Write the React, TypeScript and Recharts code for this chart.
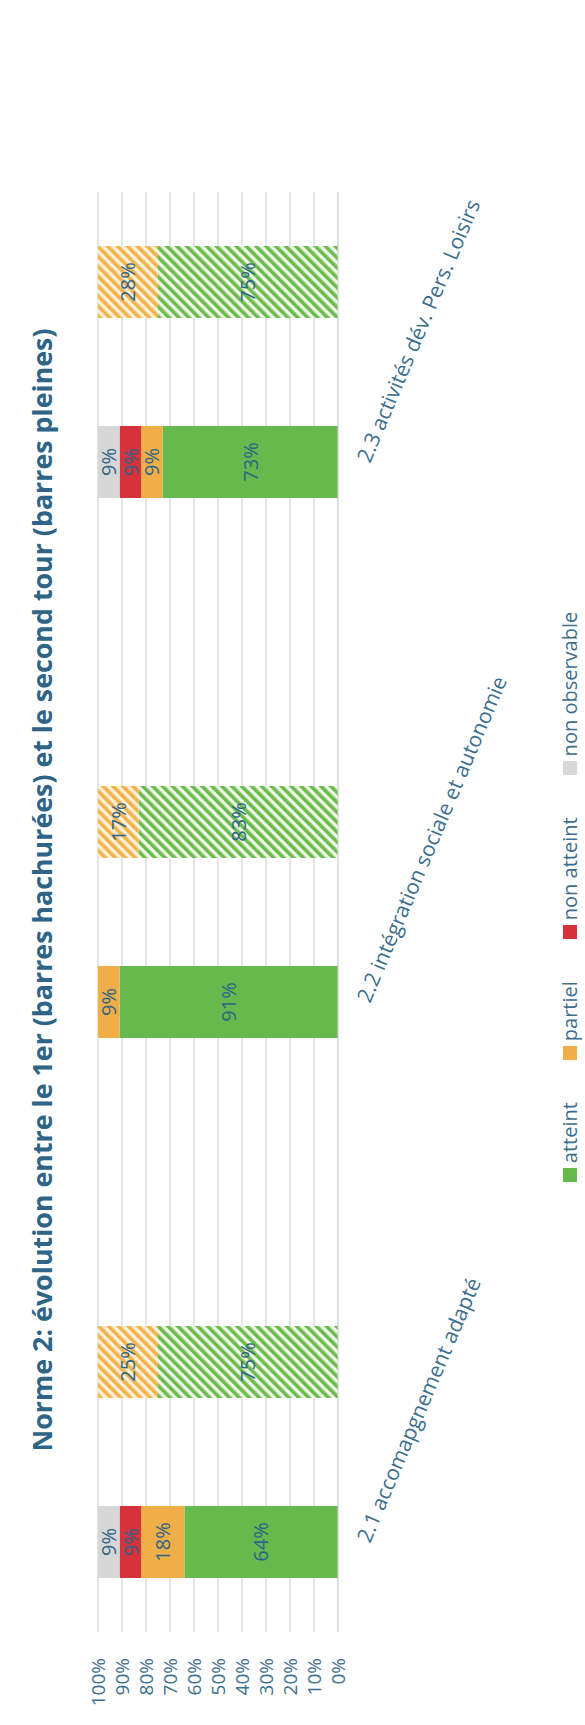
import { BarChart, Bar, XAxis, YAxis, CartesianGrid, Cell, LabelList } from "recharts";

const groups = [
  "2.1 accomapgnement adapté",
  "2.2 intégration sociale et autonomie",
  "2.3 activités dév. Pers. Loisirs",
];

// second tour (barres pleines)
const atteint2 = [64, 91, 73];
const partiel2 = [18, 9, 9];
const nonAtteint2 = [9, 0, 9];
const nonObservable2 = [9, 0, 9];

// 1er tour (barres hachurées)
const atteint1 = [75, 83, 75];
const partiel1 = [25, 17, 28];
const nonAtteint1 = [0, 0, 0];
const nonObservable1 = [0, 0, 0];

const percentTicks = [0, 10, 20, 30, 40, 50, 60, 70, 80, 90, 100];

const series = [
  { key: "atteint", name: "atteint", color: "#67b84d", hatch: "url(#hatchGreen)" },
  { key: "partiel", name: "partiel", color: "#f0ae48", hatch: "url(#hatchOrange)" },
  { key: "nonAtteint", name: "non atteint", color: "#d5323b", hatch: "#d5323b" },
  { key: "nonObservable", name: "non observable", color: "#d7d7d7", hatch: "#d7d7d7" },
];

// one slot per bar, with an empty slot between the groups
const rows: any[] = [];
groups.forEach((g, i) => {
  rows.push({
    key: `${i}-2`, group: g, tour: 2,
    atteint: atteint2[i], partiel: partiel2[i], nonAtteint: nonAtteint2[i], nonObservable: nonObservable2[i],
  });
  rows.push({
    key: `${i}-1`, group: g, tour: 1,
    atteint: atteint1[i], partiel: partiel1[i], nonAtteint: nonAtteint1[i], nonObservable: nonObservable1[i],
  });
  if (i < groups.length - 1) rows.push({ key: `gap-${i}`, group: "", tour: 0 });
});

const W = 1725;
const H = 585;
const FONT = "'Open Sans', sans-serif";
const TEXT = "#3c6e8d";

const CategoryTick = (props: any) => {
  const { x, y, payload } = props;
  const row = rows.find((r) => r.key === payload.value);
  if (!row || row.tour !== 2) return <g />;
  const tx = x - 2;
  const ty = y + 24;
  return (
    <text x={tx} y={ty} transform={`rotate(23, ${tx}, ${ty})`} fill={TEXT} fontSize={21} fontFamily={FONT} textAnchor="start">
      {row.group}
    </text>
  );
};

function App() {
  return (
    <div style={{ position: "absolute", left: 0, top: 0, width: 585, height: 1725, overflow: "hidden", background: "#fff" }}>
      <div
        style={{
          position: "absolute", left: 0, top: 0, width: W, height: H,
          transformOrigin: "0 0", transform: `translate(0px, ${W}px) rotate(-90deg)`,
          fontFamily: FONT,
        }}
      >
        <div
          style={{
            position: "absolute", top: 23, left: 0, width: 1670, textAlign: "center",
            fontSize: 26.8, fontWeight: 700, color: "#2e6587", whiteSpace: "nowrap",
          }}
        >
          Norme 2: évolution entre le 1er (barres hachurées) et le second tour (barres pleines)
        </div>

        <BarChart width={W} height={H} data={rows} margin={{ top: 98, right: 192, bottom: 47, left: 13 }} barCategoryGap="30%">
          <defs>
            <pattern id="hatchGreen" patternUnits="userSpaceOnUse" width="7" height="7" patternTransform="rotate(45)">
              <rect width="7" height="7" fill="#eef7e6" />
              <rect width="3.6" height="7" fill="#6cbb4e" />
            </pattern>
            <pattern id="hatchOrange" patternUnits="userSpaceOnUse" width="7" height="7" patternTransform="rotate(45)">
              <rect width="7" height="7" fill="#fdf1d8" />
              <rect width="3.6" height="7" fill="#f2b24c" />
            </pattern>
          </defs>
          <CartesianGrid vertical={false} stroke="#dcdcdc" strokeWidth={1.5} />
          <XAxis
            dataKey="key"
            height={200}
            tick={<CategoryTick />}
            tickLine={false}
            axisLine={{ stroke: "#d9d9d9" }}
            interval={0}
          />
          <YAxis
            width={80}
            domain={[0, 100]}
            ticks={percentTicks}
            interval={0}
            allowDataOverflow
            tickFormatter={(v: number) => `${v}%`}
            tick={{ fill: TEXT, fontSize: 19, fontFamily: FONT }}
            tickLine={false}
            axisLine={false}
            tickMargin={20}
          />
          {series.map((s) => (
            <Bar key={s.key} dataKey={s.key} name={s.name} stackId="a" fill={s.color} isAnimationActive={false}>
              {rows.map((r) => (
                <Cell key={r.key} fill={r.tour === 1 ? s.hatch : s.color} />
              ))}
              <LabelList
                dataKey={s.key}
                position="center"
                formatter={(v: any) => (v ? `${v}%` : "")}
                fill="#2e6587"
                fontSize={20}
                fontFamily={FONT}
              />
            </Bar>
          ))}
        </BarChart>

        <div
          style={{
            position: "absolute", top: 556, left: 0, width: 1656, display: "flex",
            justifyContent: "center", gap: 42, fontSize: 20, color: TEXT,
          }}
        >
          {series.map((s) => (
            <div key={s.key} style={{ display: "flex", alignItems: "center" }}>
              <span style={{ display: "inline-block", width: 14, height: 14, background: s.color, marginRight: 5 }} />
              <span>{s.name}</span>
            </div>
          ))}
        </div>
      </div>
    </div>
  );
}

export default App;
